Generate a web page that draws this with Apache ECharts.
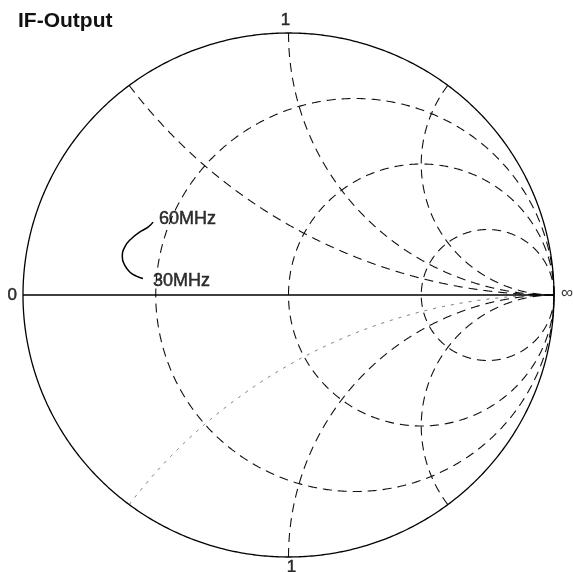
<!DOCTYPE html>
<html><head><meta charset="utf-8">
<script src="https://cdn.jsdelivr.net/npm/echarts@6/dist/echarts.min.js"></script>
<style>html,body{margin:0;padding:0;background:#fff}#c{width:573px;height:572px}</style>
</head><body><div id="c"></div>
<script>
// ---- data ----
const chartTitle = 'IF-Output';
const resistanceCircles = [1/3, 1, 3];          // constant-r circles (dashed)
const reactanceArcs = [0.5, 1, 2, -1, -2];      // constant-x arcs (dashed)
const reactanceArcsFaint = [-0.5];              // faint dotted arc
const traceRe = [-0.510, -0.529, -0.561, -0.592, -0.617, -0.626, -0.617, -0.598, -0.573, -0.548];
const traceIm = [0.278, 0.259, 0.240, 0.215, 0.183, 0.145, 0.114, 0.088, 0.072, 0.063];
const traceLabels = ['60MHz', '30MHz'];
const edgeLabels = ['0', '1', '1', '\u221E'];
const edgeRe = [-1, 0, 0, 1];
const edgeIm = [0, 1, -1, 0];
const edgePos = ['left', 'top', 'bottom', 'right'];

const FONT = 'Liberation Sans, Arial, sans-serif';
const chart = echarts.init(document.getElementById('c'), null, {renderer: 'canvas'});

function rCircleItem(style) {
  return function (params, api) {
    const r = api.value(0);
    const c = r / (1 + r), rad = 1 / (1 + r);
    const pts = [];
    for (let i = 0; i <= 720; i++) {
      const a = i * Math.PI / 360;
      pts.push(api.coord([c + rad * Math.cos(a), rad * Math.sin(a)]));
    }
    return {type: 'polyline', shape: {points: pts}, style: Object.assign({fill: 'none'}, style), silent: true};
  };
}
function xArcItem(style) {
  return function (params, api) {
    const x = api.value(0);
    const pts = [];
    const N = 800;
    for (let i = 0; i < N; i++) {
      const t = i / N;
      const r = Math.tan(t * Math.PI / 2);
      const den = (r + 1) * (r + 1) + x * x;
      pts.push(api.coord([(r * r + x * x - 1) / den, 2 * x / den]));
    }
    pts.push(api.coord([1, 0]));
    return {type: 'polyline', shape: {points: pts}, style: Object.assign({fill: 'none'}, style), silent: true};
  };
}

const traceData = traceRe.map((v, i) => [v, traceIm[i]]);
const traceLabelData = [
  {value: traceData[0], label: {formatter: traceLabels[0], distance: 6, offset: [0, -3]}},
  {value: traceData[traceData.length - 1], label: {formatter: traceLabels[1], distance: 10, offset: [0, 3]}}
];

const edgeData = edgeLabels.map((t, i) => ({
  value: [edgeRe[i], edgeIm[i]],
  label: {formatter: t, position: edgePos[i], distance: i === 2 ? 2 : (i === 3 ? 7 : 6),
          offset: i === 1 ? [-3, 2] : (i === 2 ? [3, 0] : (i === 3 ? [0, -2] : [0, 0])),
          textBorderWidth: i === 3 ? 0 : 0.5}
}));

const labelFont = {fontFamily: FONT, color: '#000', textBorderColor: '#000', textBorderWidth: 0.5};

chart.setOption({
  animation: false,
  backgroundColor: '#fff',
  title: {text: chartTitle, left: 13, top: 6, textStyle: {fontFamily: FONT, fontSize: 21, fontWeight: 'bold', color: '#111'}},
  grid: {left: 23, top: 33, width: 531, height: 524, containLabel: false},
  xAxis: {type: 'value', min: -1, max: 1, show: false},
  yAxis: {type: 'value', min: -1, max: 1, show: false},
  series: [
    {type: 'custom', coordinateSystem: 'cartesian2d', clip: false, data: resistanceCircles.map(v => [v]),
     renderItem: rCircleItem({stroke: '#111', lineWidth: 1.1, lineDash: [9, 6]}), z: 2},
    {type: 'custom', coordinateSystem: 'cartesian2d', clip: false, data: reactanceArcs.map(v => [v]),
     renderItem: xArcItem({stroke: '#111', lineWidth: 1.1, lineDash: [9, 6]}), z: 2},
    {type: 'custom', coordinateSystem: 'cartesian2d', clip: false, data: reactanceArcsFaint.map(v => [v]),
     renderItem: xArcItem({stroke: '#666', lineWidth: 1, lineDash: [3, 6]}), z: 2},
    {type: 'custom', coordinateSystem: 'cartesian2d', clip: false, data: [[0]],
     renderItem: rCircleItem({stroke: '#000', lineWidth: 1.3}), z: 3},
    {type: 'line', data: [[-1, 0], [1, 0]], symbol: 'none', lineStyle: {color: '#000', width: 1.5}, z: 3},
    {type: 'line', data: traceData, smooth: true, symbol: 'none',
     lineStyle: {color: '#000', width: 1.5}, z: 4},
    {type: 'scatter', data: traceLabelData, symbolSize: 0,
     label: Object.assign({show: true, position: 'right', fontSize: 18}, labelFont), z: 5},
    {type: 'scatter', data: edgeData, symbolSize: 0,
     label: Object.assign({show: true, fontSize: 17}, labelFont), z: 5}
  ]
});
</script>
</body></html>
